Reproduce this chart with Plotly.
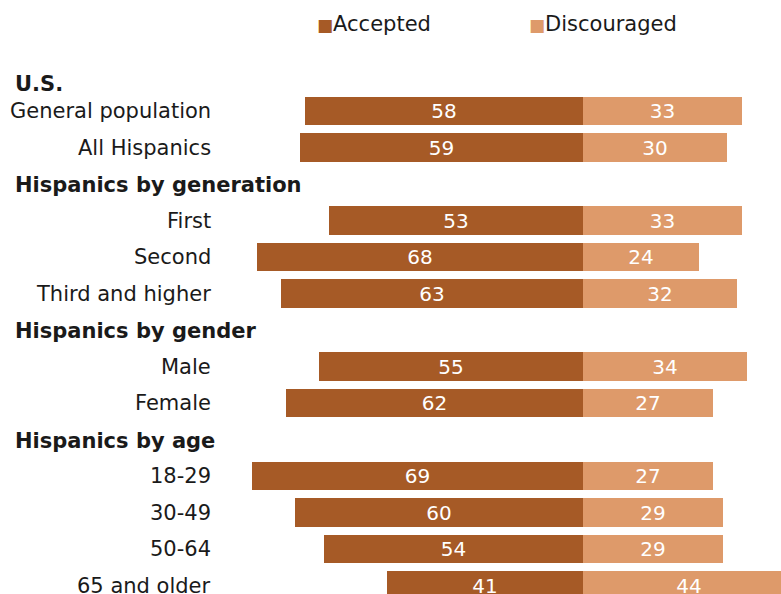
import plotly.graph_objects as go

# ---- data ----
groups = ["U.S.", "Hispanics by generation", "Hispanics by gender", "Hispanics by age"]
categories = ["General population", "All Hispanics",
              "First", "Second", "Third and higher",
              "Male", "Female",
              "18-29", "30-49", "50-64", "65 and older"]
category_group = [0, 0, 1, 1, 1, 2, 2, 3, 3, 3, 3]
accepted = [58, 59, 53, 68, 63, 55, 62, 69, 60, 54, 41]
discouraged = [33, 30, 33, 24, 32, 34, 27, 27, 29, 29, 44]

C_ACC = "#A65A26"
C_DIS = "#DE9A6A"
FONT = "DejaVu Sans"

# ---- row layout (slot positions) ----
cat_pos = []
header_pos = []
slot = 0
prev = None
for i, g in enumerate(category_group):
    if g != prev:
        if prev is None:
            header_pos.append(slot + 0.26)
        else:
            slot += 1
            header_pos.append(slot + 0.04)
        prev = g
    slot += 1
    cat_pos.append(slot)

W, H = 781, 594
px_per_unit = 4.8
center_px = 583.3
row_px = 36.5
first_row_px = 111

x_range = [-center_px / px_per_unit, (W - center_px) / px_per_unit]
y_top = 1 - first_row_px / row_px
y_bot = 1 + (H - first_row_px) / row_px

fig = go.Figure()
fig.add_trace(go.Bar(
    y=cat_pos, x=[-v for v in accepted], orientation="h",
    marker=dict(color=C_ACC, line=dict(width=0)), width=0.77,
    text=[str(v) for v in accepted], textposition="inside",
    insidetextanchor="middle", textangle=0, constraintext="none",
    textfont=dict(color="white", size=20, family=FONT),
    name="Accepted", hoverinfo="skip", showlegend=False,
))
fig.add_trace(go.Bar(
    y=cat_pos, x=discouraged, orientation="h",
    marker=dict(color=C_DIS, line=dict(width=0)), width=0.77,
    text=[str(v) for v in discouraged], textposition="inside",
    insidetextanchor="middle", textangle=0, constraintext="none",
    textfont=dict(color="white", size=20, family=FONT),
    name="Discouraged", hoverinfo="skip", showlegend=False,
))

ann = []
for name, p in zip(categories, cat_pos):
    ann.append(dict(x=213 / W, xref="paper", y=p, yref="y", text=name,
                    showarrow=False, xanchor="right", yanchor="middle",
                    font=dict(size=21, color="#1a1a1a", family=FONT)))
for name, p in zip(groups, header_pos):
    ann.append(dict(x=13 / W, xref="paper", y=p, yref="y", text="<b>" + name + "</b>",
                    showarrow=False, xanchor="left", yanchor="middle",
                    font=dict(size=21, color="#1a1a1a", family=FONT)))
# legend
for label, col, xl in [("Accepted", C_ACC, 315), ("Discouraged", C_DIS, 527)]:
    ann.append(dict(x=xl / W, xref="paper", y=1 - 24 / H, yref="paper",
                    text=f'<span style="color:{col};font-size:17px">■</span>{label}',
                    showarrow=False, xanchor="left", yanchor="middle",
                    font=dict(size=21, color="#1a1a1a", family=FONT)))

fig.update_layout(
    width=W, height=H,
    margin=dict(l=0, r=0, t=0, b=0),
    paper_bgcolor="white", plot_bgcolor="white",
    barmode="relative", bargap=0,
    xaxis=dict(range=x_range, visible=False, fixedrange=True),
    yaxis=dict(range=[y_bot, y_top], visible=False, fixedrange=True),
    annotations=ann,
)
fig.write_html("out.html", config={"displayModeBar": False},
               post_script="document.body.style.margin='0px';document.body.style.overflow='hidden';")
